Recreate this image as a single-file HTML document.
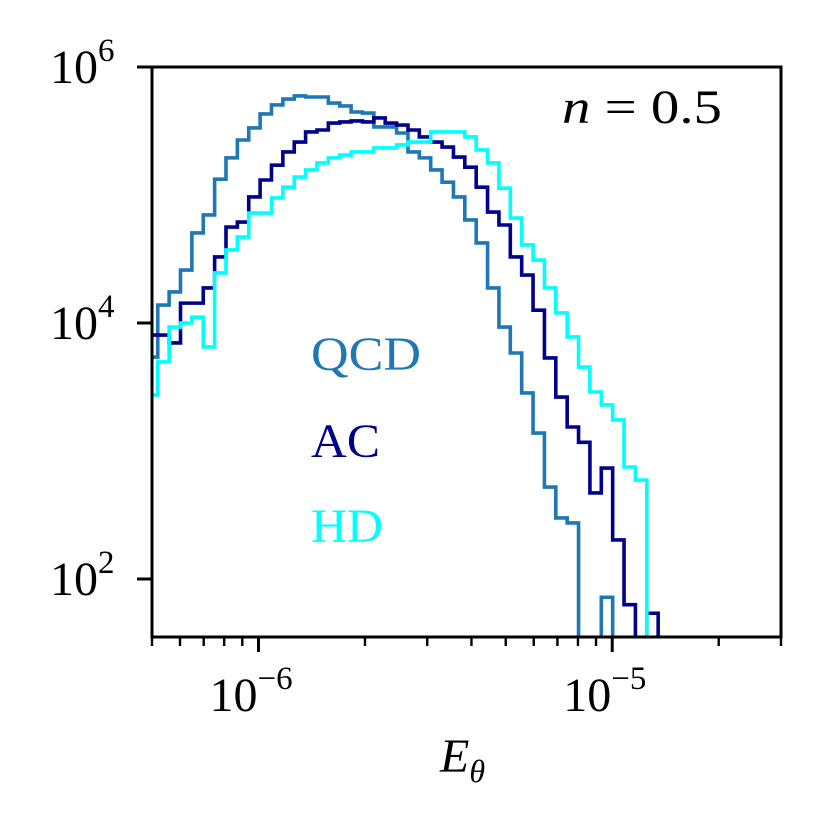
<!DOCTYPE html>
<html><head><meta charset="utf-8">
<style>
html,body{margin:0;padding:0;background:#fff;}
svg{display:block;}
text{font-family:"Liberation Serif",serif;}
</style></head>
<body>
<svg id="chart" width="830" height="830" viewBox="0 0 830 830" xmlns="http://www.w3.org/2000/svg">
<defs><clipPath id="clip"><rect x="152" y="67" width="629" height="570"/></clipPath></defs>
<g id="series" clip-path="url(#clip)"></g>
<rect x="152" y="67" width="629" height="570" fill="none" stroke="#000" stroke-width="3"/>
<g id="ticks"></g>
<text x="562" y="123" font-size="48" textLength="160" lengthAdjust="spacingAndGlyphs"><tspan font-style="italic">n</tspan> = 0.5</text>
<text x="311" y="370" font-size="48" fill="#1f77b4" textLength="110" lengthAdjust="spacingAndGlyphs">QCD</text>
<text x="311" y="457" font-size="48" fill="#00008b" textLength="69" lengthAdjust="spacingAndGlyphs">AC</text>
<text x="311" y="542" font-size="48" fill="#00ffff" textLength="72" lengthAdjust="spacingAndGlyphs">HD</text>
<text x="440" y="772" font-size="48" font-style="italic">E<tspan font-size="32" dy="10">θ</tspan></text>
</svg>
<script>
const binLogStart = -6.3169;
const binLogStep = 0.03215;
const qcdCounts = [5420,13800,17500,25900,50500,69800,133000,195000,269000,334000,430000,505000,562000,594000,583000,583000,523000,496000,445000,437000,340000,340000,305000,217000,195000,157000,126000,96500,63800,42200,18800,9300,5830,2840,1380,523,300,274,0,0,72,0,0,0,0];
const acCounts = [8050,8050,6980,14300,14300,18800,32800,56200,61500,96500,131000,171000,217000,259000,311000,322000,365000,372000,379000,372000,400000,365000,352000,322000,284000,259000,237000,198000,165000,115000,73600,58300,32800,23700,12600,5330,2640,1540,1170,470,736,202,63,0,54];
const hdCounts = [2740,4960,9300,10000,11100,6500,24600,37200,46900,72300,72300,94800,115000,138000,157000,178000,195000,205000,217000,217000,233000,233000,246000,259000,259000,311000,311000,311000,284000,225000,178000,113000,66100,40700,31000,18800,12000,7780,4530,2890,2290,1750,750,593,0];
const xMajorTicks = [-6,-5];
const xMajorLabels = ["−6","−5"];
const xMinorTicks = [5e-7,6e-7,7e-7,8e-7,9e-7,2e-6,3e-6,4e-6,5e-6,6e-6,7e-6,8e-6,9e-6,2e-5,3e-5];
const yMajorTicks = [2,4,6];
const yMajorLabels = ["2","4","6"];

const NS="http://www.w3.org/2000/svg";
const L=152,R=781,T=67,B=637;
const xLogMin=Math.log10(5e-7), xLogMax=Math.log10(3e-5);
const yLogMin=2-58/128, yLogMax=6;
function xs(lg){return L+(lg-xLogMin)/(xLogMax-xLogMin)*(R-L);}
function ys(c){ if(c<=0) return B+20; return B-(Math.log10(c)-yLogMin)/(yLogMax-yLogMin)*(B-T);}
function mk(tag,attrs){const e=document.createElementNS(NS,tag);for(const k in attrs)e.setAttribute(k,attrs[k]);return e;}

const seriesG=document.getElementById('series');
function drawHist(counts,color,name){
  let d="M"+xs(binLogStart)+","+(B+20);
  for(let i=0;i<counts.length;i++){
    const x0=xs(binLogStart+i*binLogStep), x1=xs(binLogStart+(i+1)*binLogStep), y=ys(counts[i]);
    d+=" L"+x0+","+y+" L"+x1+","+y;
  }
  d+=" L"+xs(binLogStart+counts.length*binLogStep)+","+(B+20);
  const p=mk('path',{d:d,fill:'none',stroke:color,'stroke-width':3.6,'stroke-linejoin':'miter'});
  
  
  seriesG.appendChild(p);
}
drawHist(qcdCounts,'#1f77b4','qcd-histogram');
drawHist(acCounts,'#00008b','ac-histogram');
drawHist(hdCounts,'#00ffff','hd-histogram');

const tg=document.getElementById('ticks');
xMajorTicks.forEach((lg,i)=>{
  const x=xs(lg);
  const t=mk('line',{x1:x,x2:x,y1:B,y2:B+15,stroke:'#000','stroke-width':3});
  
  
  tg.appendChild(t);
  const tx=mk('text',{x:x-49,y:B+74,'font-size':48});
  
  
  tx.innerHTML='10<tspan font-size="33" dy="-22">'+xMajorLabels[i]+'</tspan>';
  tg.appendChild(tx);
});
xMinorTicks.forEach(v=>{
  const x=xs(Math.log10(v));
  const t=mk('line',{x1:x,x2:x,y1:B,y2:B+9,stroke:'#000','stroke-width':2.4});
  
  
  tg.appendChild(t);
});
yMajorTicks.forEach((lg,i)=>{
  const y=ys(Math.pow(10,lg));
  const t=mk('line',{x1:L-15,x2:L,y1:y,y2:y,stroke:'#000','stroke-width':3});
  
  
  tg.appendChild(t);
  const tx=mk('text',{x:50,y:y+16,'font-size':48});
  
  
  tx.innerHTML='10<tspan font-size="33" dy="-22">'+yMajorLabels[i]+'</tspan>';
  tg.appendChild(tx);
});
</script>
</body></html>
